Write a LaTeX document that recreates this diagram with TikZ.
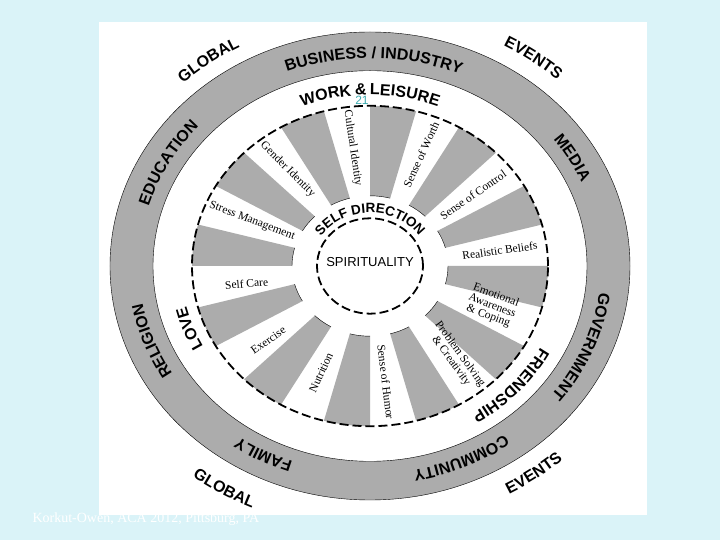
\documentclass[tikz,border=0pt]{standalone}
\usepackage{fontspec}
\setmainfont{Liberation Serif}
\setsansfont{Liberation Sans}
\usetikzlibrary{decorations.text}
\definecolor{bgcyan}{RGB}{218,243,248}
\definecolor{wheelgray}{RGB}{172,172,172}
\definecolor{pageteal}{RGB}{60,170,175}

\begin{document}
\begin{tikzpicture}[x=1pt, y=0.9pt,
    ring/.style={decorate, decoration={text along path, text align=center, text={#1}}},
    spoke/.style={font=\fontsize{11.5}{11}\selectfont, align=center, inner sep=0pt},
    rim/.style={dash pattern=on 9pt off 4pt, line width=1.8pt}]
    \useasboundingbox (-370pt,-274pt) rectangle (350pt,266pt);
    \fill[bgcyan] (-370pt,-274pt) rectangle (350pt,266pt);
    \node[anchor=west, text=white, font=\fontsize{14}{14}\selectfont] (credit) at (-341pt,-253pt) {Korkut-Owen, ACA 2012, Pittsburg, PA};
    \fill[white] (-271pt,-249pt) rectangle (277pt,244pt);
    % outer band
    \fill[wheelgray, draw=black, even odd rule] (0,0) circle[radius=260] (0,0) circle[radius=217];
    % spokes
    \foreach \a [evaluate=\a as \b using \a+15] in {15,45,...,345} {
      \fill[wheelgray] (\a:78) -- (\a:178) arc[start angle=\a, end angle=\b, radius=178]
          -- (\b:78) arc[start angle=\b, end angle=\a, radius=78] -- cycle;
      \draw (\b:78) arc[start angle=\b, end angle=\a, radius=78];
    }
    \draw[rim] (0,0) circle[radius=178];
    \draw[rim] (0,0) circle[radius=53];
    % band labels
    \begin{scope}
    \sffamily\bfseries\fontsize{16}{16}\selectfont
    \path[ring=BUSINESS / INDUSTRY] (149:231) arc[start angle=149, end angle=29, radius=231];
    \path[ring=MEDIA] (69.5:231) arc[start angle=69.5, end angle=-10.5, radius=231];
    \path[ring=GOVERNMENT] (18:231) arc[start angle=18, end angle=-62, radius=231];
    \path[ring=COMMUNITY] (-26:231) arc[start angle=-26, end angle=-106, radius=231];
    \path[ring=FAMILY] (-78:231) arc[start angle=-78, end angle=-158, radius=231];
    \path[ring=RELIGION] (240:231) arc[start angle=240, end angle=160, radius=231];
    \path[ring=EDUCATION] (191.5:231) arc[start angle=191.5, end angle=111.5, radius=231];
    \path[ring=GLOBAL] (156:276) arc[start angle=156, end angle=96, radius=276];
    \path[ring=EVENTS] (84:279) arc[start angle=84, end angle=24, radius=279];
    \path[ring=EVENTS] (-84:289) arc[start angle=-84, end angle=-24, radius=289];
    \path[ring=GLOBAL] (-151:294) arc[start angle=-151, end angle=-91, radius=294];
    \path[ring=WORK] (133.5:190) arc[start angle=133.5, end angle=73.5, radius=190];
    \node[anchor=base, inner sep=0pt, rotate=-3] (amp) at (92.8:190) {\&};
    \path[ring=LEISURE] (109.3:190) arc[start angle=109.3, end angle=49.3, radius=190];
    \path[ring=LOVE] (240:189) arc[start angle=240, end angle=160, radius=189];
    \path[ring=FRIENDSHIP] (-2:193) arc[start angle=-2, end angle=-82, radius=193];
    \fontsize{13.5}{13.5}\selectfont
    \path[ring=SELF DIRECTION] (175:59) arc[start angle=175, end angle=5, radius=59];
    \end{scope}
    % spoke labels
    \node[spoke, rotate=-81.7] (culture) at (97.5:132) {Cultural Identity};
    \node[spoke, rotate=65.3] (worth) at (67.5:134) {Sense of Worth};
    \node[spoke, rotate=34.7] (control) at (37.5:130) {Sense of Control};
    \node[spoke, rotate=8] (beliefs) at (7.5:131) {Realistic Beliefs};
    \node[spoke, rotate=-20.4] (emotion) at (-20:130) {Emotional\\Awareness\\\& Coping};
    \node[spoke, rotate=-54] (problem) at (-50:133) {Problem Solving\\\& Creativity};
    \node[spoke, rotate=-83] (humor) at (-83:130) {Sense of Humor};
    \node[spoke, rotate=65.3] (nutrition) at (-112.5:128) {Nutrition};
    \node[spoke, rotate=34.7] (exercise) at (-141:131) {Exercise};
    \node[spoke, rotate=5] (selfcare) at (-171:125) {Self Care};
    \node[spoke, rotate=-20.4] (stress) at (157:128) {Stress Management};
    \node[spoke, rotate=-45] (gender) at (127.5:135) {Gender Identity};
    \node[font=\sffamily\fontsize{13}{13}\selectfont] (spirit) at (0pt,4pt) {SPIRITUALITY};
    \node[text=pageteal, font=\sffamily\fontsize{12}{12}\selectfont] (page) at (-8pt,166pt) {21};
\end{tikzpicture}
\end{document}
